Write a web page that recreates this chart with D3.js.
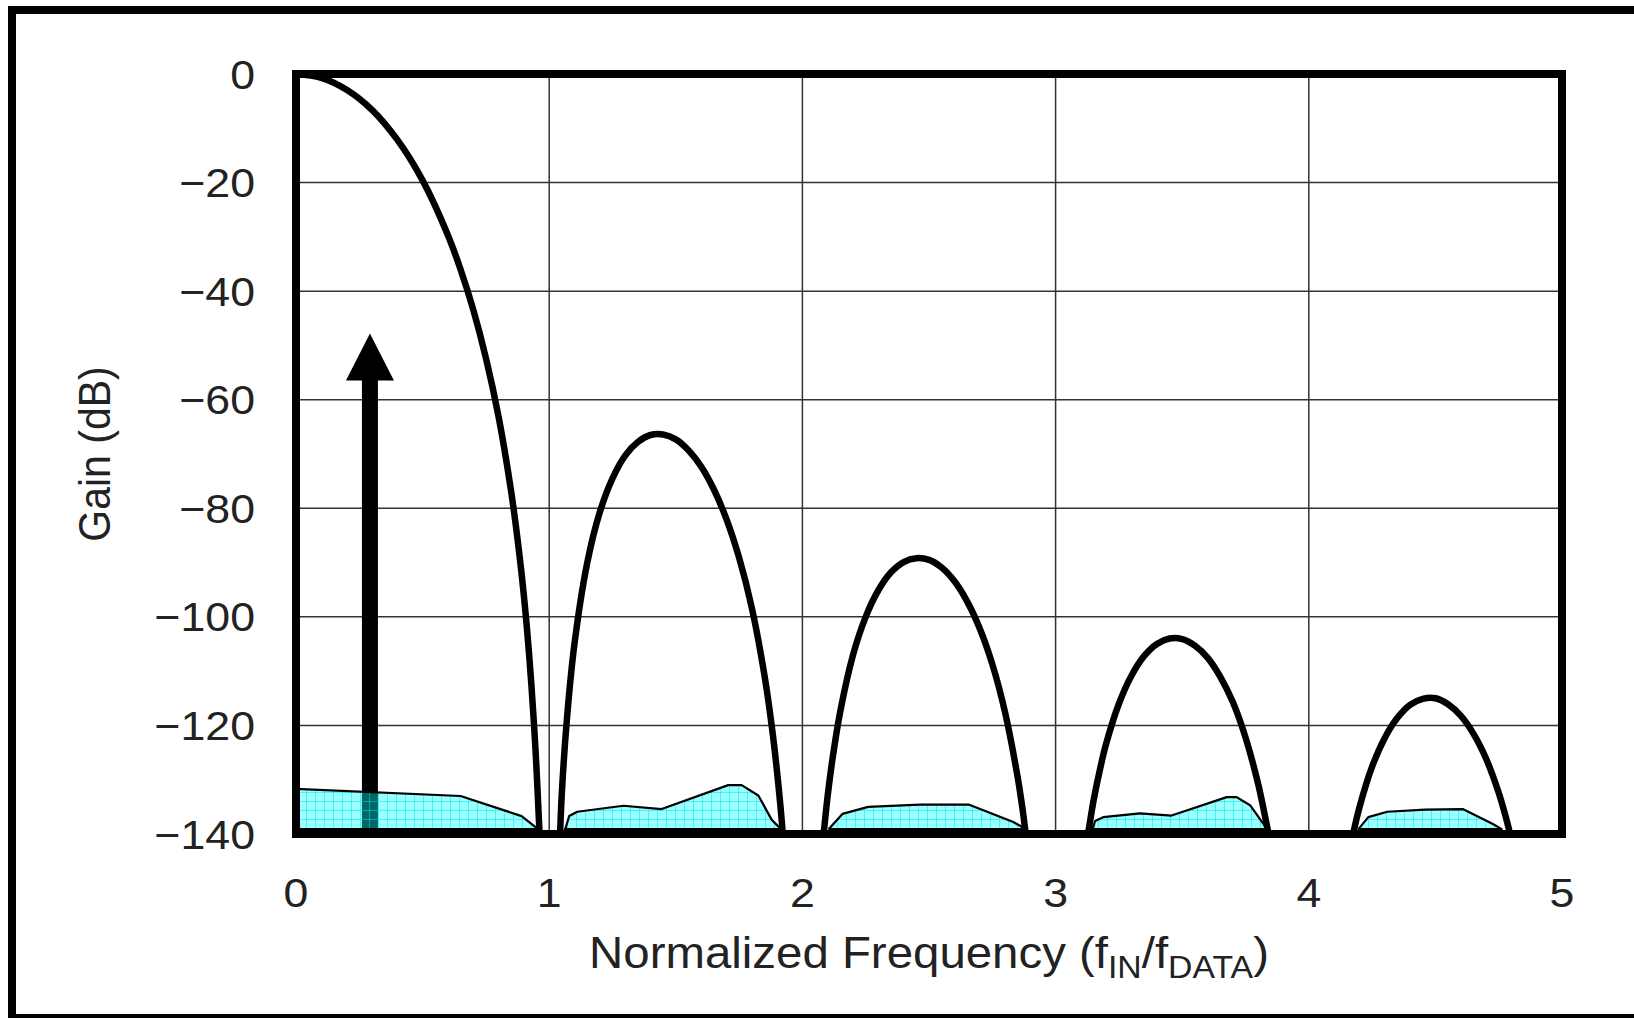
<!DOCTYPE html>
<html>
<head>
<meta charset="utf-8">
<script src="https://cdn.jsdelivr.net/npm/d3@7"></script>
<style>
  body { margin: 0; background: #fff; }
  svg { display: block; }
  text { font-family: "Liberation Sans", Arial, Helvetica, sans-serif; fill: #222; }
</style>
</head>
<body>
<svg id="chart" width="1634" height="1018"></svg>
<script>
// axis ticks
var xTicks = [0, 1, 2, 3, 4, 5];
var yTicks = [0, -20, -40, -60, -80, -100, -120, -140];

// filter response lobes, [normalized freq, gain dB]
var lobe1 = [[0, 0], [0.1, -0.7], [0.2, -2.9], [0.3, -6.6], [0.4, -12.1], [0.5, -19.6], [0.6, -29.7], [0.65, -36.0],
    [0.7, -43.4], [0.75, -52.3], [0.8, -63.1], [0.85, -77.0], [0.88, -87.6], [0.9, -96.1], [0.92, -106.5],
    [0.94, -119.8], [0.95, -128.1], [0.96, -138.1], [0.962, -140]];
var lobe2 = [[1.043, -140], [1.05, -132.4], [1.07, -118.8], [1.1, -104.9], [1.15, -90.1], [1.2, -80.7], [1.25, -74.5],
    [1.3, -70.3], [1.35, -67.8], [1.4, -66.5], [1.45, -66.4], [1.5, -67.3], [1.55, -69.3], [1.6, -72.3], [1.65, -76.5],
    [1.7, -82.0], [1.75, -89.1], [1.8, -98.3], [1.85, -110.7], [1.88, -120.5], [1.9, -128.6], [1.92, -138.5], [1.922, -140]];
var lobe3 = [[2.084, -140], [2.1, -132.9], [2.12, -125.8], [2.15, -117.3], [2.2, -107.0], [2.25, -100.0], [2.3, -95.1],
    [2.35, -91.8], [2.4, -89.9], [2.45, -89.2], [2.5, -89.5], [2.55, -90.9], [2.6, -93.4], [2.65, -97.1], [2.7, -102.1],
    [2.75, -108.7], [2.8, -117.5], [2.85, -129.5], [2.87, -135.6], [2.882, -140]];
var lobe4 = [[3.127, -140], [3.13, -139.4], [3.15, -133.8], [3.18, -127.1], [3.2, -123.3], [3.25, -116.0], [3.3, -110.8],
    [3.35, -107.2], [3.4, -105.0], [3.45, -104.0], [3.5, -104.1], [3.55, -105.3], [3.6, -107.5], [3.65, -111.0],
    [3.7, -115.7], [3.75, -122.2], [3.8, -130.8], [3.83, -137.4], [3.841, -140]];
var lobe5 = [[4.175, -140], [4.2, -135.1], [4.25, -127.6], [4.3, -122.3], [4.35, -118.6], [4.4, -116.2], [4.45, -115.1],
    [4.5, -115.0], [4.55, -116.1], [4.6, -118.2], [4.65, -121.5], [4.7, -126.1], [4.75, -132.4], [4.78, -137.2], [4.795, -140]];

// shaded noise regions
var noise1 = [[0, -131.7], [0.650, -133.0], [0.891, -136.7], [0.951, -138.9]];
var noise2 = [[1.062, -139.3], [1.079, -136.7], [1.111, -135.9], [1.293, -134.8], [1.444, -135.4], [1.707, -131.0],
    [1.760, -131.0], [1.826, -132.9], [1.879, -137.4], [1.909, -138.8]];
var noise3 = [[2.106, -139.0], [2.158, -136.3], [2.260, -135.0], [2.464, -134.6], [2.659, -134.6], [2.833, -137.8], [2.872, -138.8]];
var noise4 = [[3.145, -139.3], [3.156, -137.6], [3.188, -136.9], [3.333, -136.2], [3.458, -136.6], [3.676, -133.2],
    [3.715, -133.2], [3.768, -134.7], [3.834, -139.0]];
var noise5 = [[4.196, -139.1], [4.235, -136.9], [4.310, -135.9], [4.459, -135.5], [4.608, -135.4], [4.729, -138.2], [4.762, -139.1]];
var noiseFloor = -139.1;

// arrow marker
var arrowFreq = 0.292;
var arrowTip = -47.8;

var lobes = [lobe1, lobe2, lobe3, lobe4, lobe5];
var noises = [noise1, noise2, noise3, noise4, noise5];

var plotLeft = 296, plotRight = 1562, plotTop = 74, plotBottom = 834;
var stretch = 1.09;
var fontSize = 41;

var svg = d3.select("#chart");
var x = d3.scaleLinear().domain([0, 5]).range([plotLeft, plotRight]);
var y = d3.scaleLinear().domain([0, -140]).range([plotTop, plotBottom]);

svg.append("rect").attr("width", 1634).attr("height", 1018).style("fill", "white");

// outer frame
svg.append("rect").attr("x", 12).attr("y", 10).attr("width", 1640).attr("height", 1008)
    .style("fill", "none").style("stroke", "black").style("stroke-width", 8);

var defs = svg.append("defs");
defs.append("clipPath").attr("id", "plotClip").append("rect")
    .attr("x", plotLeft).attr("y", plotTop).attr("width", plotRight - plotLeft).attr("height", plotBottom - plotTop);

var pat = defs.append("pattern").attr("id", "hatch").attr("patternUnits", "userSpaceOnUse")
    .attr("width", 9).attr("height", 9);
pat.append("rect").attr("width", 9).attr("height", 9).style("fill", "rgba(0,255,255,0.4)");
pat.append("path").attr("d", "M0,0.5H9M0.5,0V9").style("stroke", "rgba(0,225,235,0.5)").style("stroke-width", 1);

// gridlines
svg.append("g").selectAll("line").data(xTicks.slice(1, -1)).enter().append("line")
    .attr("x1", function (d) { return x(d); }).attr("x2", function (d) { return x(d); })
    .attr("y1", plotTop).attr("y2", plotBottom)
    .style("stroke", "#333").style("stroke-width", 1.5);
svg.append("g").selectAll("line").data(yTicks.slice(1, -1)).enter().append("line")
    .attr("x1", plotLeft).attr("x2", plotRight)
    .attr("y1", function (d) { return y(d); }).attr("y2", function (d) { return y(d); })
    .style("stroke", "#333").style("stroke-width", 1.5);

// arrow
var ax = x(arrowFreq);
var headBase = y(arrowTip) + 47;
svg.append("rect").attr("x", ax - 8).attr("y", headBase - 1).attr("width", 16).attr("height", y(noiseFloor) - headBase + 1)
    .style("fill", "black");
svg.append("path").attr("d", "M" + ax + "," + y(arrowTip) + "L" + (ax + 24) + "," + headBase + "L" + (ax - 24) + "," + headBase + "Z")
    .style("fill", "black");

// noise areas
var area = d3.area().x(function (d) { return x(d[0]); }).y0(y(noiseFloor)).y1(function (d) { return y(d[1]); });
var plot = svg.append("g").attr("clip-path", "url(#plotClip)");
noises.forEach(function (n) {
    plot.append("path").attr("d", area(n))
        .style("fill", "url(#hatch)").style("stroke", "black").style("stroke-width", 2.2).style("stroke-linejoin", "round");
});

// response curve
var line = d3.line().x(function (d) { return x(d[0]); }).y(function (d) { return y(d[1]); }).curve(d3.curveCatmullRom.alpha(0.5));
lobes.forEach(function (l) {
    plot.append("path").attr("d", line(l))
        .style("fill", "none").style("stroke", "black").style("stroke-width", 6.5);
});

// plot border
svg.append("rect").attr("x", plotLeft).attr("y", plotTop).attr("width", plotRight - plotLeft).attr("height", plotBottom - plotTop)
    .style("fill", "none").style("stroke", "black").style("stroke-width", 8);

// tick labels
svg.append("g").selectAll("text").data(yTicks).enter().append("text")
    .attr("transform", function (d) { return "translate(255," + (y(d) + 14.5) + ") scale(" + stretch + ",1)"; })
    .style("text-anchor", "end").style("font-size", fontSize)
    .text(function (d) { return d < 0 ? "\u2212" + Math.abs(d) : d; });

svg.append("g").selectAll("text").data(xTicks).enter().append("text")
    .attr("transform", function (d) { return "translate(" + x(d) + ",907) scale(" + stretch + ",1)"; })
    .style("text-anchor", "middle").style("font-size", fontSize)
    .text(function (d) { return d; });

// axis titles
var xt = svg.append("text")
    .attr("transform", "translate(" + ((plotLeft + plotRight) / 2) + ",968) scale(" + stretch + ",1)")
    .style("text-anchor", "middle").style("font-size", 43.5);
xt.append("tspan").text("Normalized Frequency (f");
xt.append("tspan").attr("dy", 10).style("font-size", 31).text("IN");
xt.append("tspan").attr("dy", -10).text("/f");
xt.append("tspan").attr("dy", 10).style("font-size", 31).text("DATA");
xt.append("tspan").attr("dy", -10).text(")");

svg.append("text")
    .attr("transform", "translate(110," + ((plotTop + plotBottom) / 2) + ") rotate(-90) scale(1," + stretch + ")")
    .style("text-anchor", "middle").style("font-size", fontSize)
    .text("Gain (dB)");
</script>
</body>
</html>
